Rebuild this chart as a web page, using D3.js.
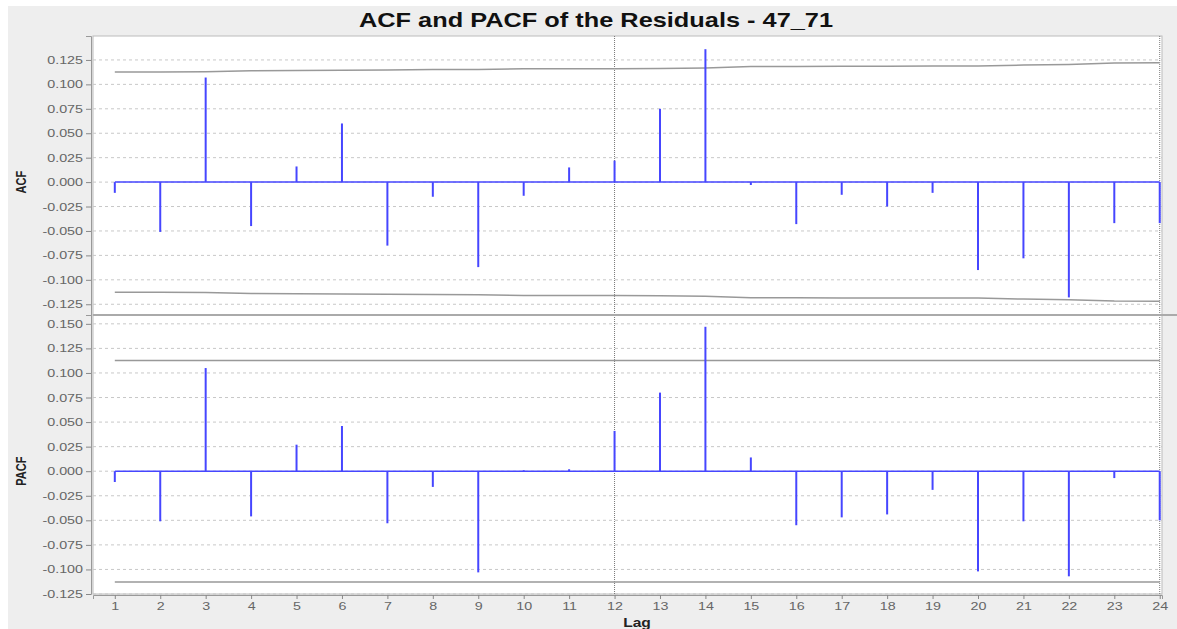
<!DOCTYPE html>
<html>
<head>
<meta charset="utf-8">
<script src="https://cdn.jsdelivr.net/npm/d3@7"></script>
<style>
  body { margin: 0; background: #fff; }
  svg { display: block; font-family: "Liberation Sans", Arial, sans-serif; }
  .tick text { fill: #666; font-size: 11px; }
  .tick line { stroke: #888; }
  .domain { stroke: #999; }
</style>
</head>
<body>
<div id="graph"></div>
<script>
// chart data
const lags = [1,2,3,4,5,6,7,8,9,10,11,12,13,14,15,16,17,18,19,20,21,22,23,24];
const acfValues = [-0.011,-0.051,0.107,-0.045,0.016,0.060,-0.065,-0.015,-0.087,-0.014,0.015,0.022,
                   0.075,0.136,-0.003,-0.043,-0.013,-0.025,-0.011,-0.090,-0.078,-0.118,-0.042,-0.042];
const pacfValues = [-0.011,-0.051,0.105,-0.046,0.027,0.046,-0.053,-0.016,-0.103,0.001,0.002,0.041,
                    0.080,0.147,0.014,-0.055,-0.047,-0.044,-0.019,-0.102,-0.051,-0.107,-0.007,-0.050];
// confidence limits
const acfBand = [0.1127,0.1127,0.1129,0.1140,0.1143,0.1144,0.1148,0.1151,0.1152,0.1160,0.1161,0.1161,
                 0.1162,0.1168,0.1184,0.1184,0.1186,0.1186,0.1187,0.1187,0.1197,0.1203,0.1218,0.1220];
const pacfBand = [0.1127,0.1127,0.1127,0.1127,0.1127,0.1127,0.1127,0.1127,0.1127,0.1127,0.1127,0.1127,
                  0.1127,0.1127,0.1127,0.1127,0.1127,0.1127,0.1127,0.1127,0.1127,0.1127,0.1127,0.1127];
const acfTicks = [-0.125,-0.100,-0.075,-0.050,-0.025,0,0.025,0.050,0.075,0.100,0.125];
const pacfTicks = [-0.125,-0.100,-0.075,-0.050,-0.025,0,0.025,0.050,0.075,0.100,0.125,0.150];
const markLags = [12, 24];

const width = 1177, height = 629;
const left = 93, right = 1162;
const stretch = 1.3; // the original picture is stretched sideways

const graph = d3.select("div#graph").append("svg")
  .attr("width", width).attr("height", height);

// panel background
graph.append("rect").attr("x", 8).attr("y", 6)
  .attr("width", width - 8).attr("height", height - 6).attr("fill", "#eeeeee");

graph.append("text")
  .attr("transform", `translate(596,27) scale(${stretch},1)`)
  .attr("text-anchor", "middle")
  .style("font-size", "19.5px").style("font-weight", "bold").attr("fill", "#111")
  .text("ACF and PACF of the Residuals - 47_71");

const xScale = d3.scaleLinear().domain([0.52, 24.05]).range([left, right]);

const panels = [
  {name: "ACF", values: acfValues, band: acfBand, ticks: acfTicks,
   y: d3.scaleLinear().domain([-0.136, 0.1495]).range([315, 36])},
  {name: "PACF", values: pacfValues, band: pacfBand, ticks: pacfTicks,
   y: d3.scaleLinear().domain([-0.125, 0.159]).range([594, 315])}
];

panels.forEach(function(p) {
  const top = p.y.range()[1], bottom = p.y.range()[0];
  const g = graph.append("g");

  g.append("rect")
    .attr("x", left).attr("y", top)
    .attr("width", right - left).attr("height", bottom - top)
    .attr("fill", "#fff").attr("stroke", "#bbb").attr("stroke-width", 1);

  // horizontal grid
  g.selectAll("line.grid").data(p.ticks).enter().append("line")
    .attr("class", "grid")
    .attr("x1", left).attr("x2", right)
    .attr("y1", d => p.y(d)).attr("y2", d => p.y(d))
    .attr("stroke", "#c8c8c8").attr("stroke-dasharray", "3,3");

  // vertical markers
  g.selectAll("line.mark").data(markLags).enter().append("line")
    .attr("class", "mark")
    .attr("x1", d => xScale(d)).attr("x2", d => xScale(d))
    .attr("y1", top).attr("y2", bottom)
    .attr("stroke", "#777").attr("stroke-dasharray", "1,1");

  // confidence limits
  const upper = d3.line().x((d, i) => xScale(lags[i])).y(d => p.y(d));
  const lower = d3.line().x((d, i) => xScale(lags[i])).y(d => p.y(-d));
  g.append("path").datum(p.band).attr("d", upper)
    .attr("fill", "none").attr("stroke", "#999").attr("stroke-width", 1.5);
  g.append("path").datum(p.band).attr("d", lower)
    .attr("fill", "none").attr("stroke", "#999").attr("stroke-width", 1.5);

  // zero line and stems
  g.append("line")
    .attr("x1", xScale(lags[0])).attr("x2", xScale(lags[lags.length - 1]))
    .attr("y1", p.y(0)).attr("y2", p.y(0))
    .attr("stroke", "#4646ff").attr("stroke-width", 1.5);
  g.selectAll("line.stem").data(p.values).enter().append("line")
    .attr("class", "stem")
    .attr("x1", (d, i) => xScale(lags[i])).attr("x2", (d, i) => xScale(lags[i]))
    .attr("y1", p.y(0)).attr("y2", d => p.y(d))
    .attr("stroke", "#4646ff").attr("stroke-width", 2);

  const yAxis = d3.axisLeft(p.y).tickValues(p.ticks)
    .tickFormat(d => d.toFixed(3)).tickSize(5).tickPadding(3);
  g.append("g").attr("class", "y axis")
    .attr("transform", `translate(${left - 2},0)`)
    .call(yAxis)
    .selectAll("text")
    .attr("x", 0)
    .attr("transform", `translate(-8,0) scale(${stretch},1)`);

  g.append("text")
    .attr("transform", `translate(26,${p.y(0)}) rotate(-90) scale(1,${stretch})`)
    .attr("text-anchor", "middle")
    .style("font-size", "11px").style("font-weight", "bold").attr("fill", "#222")
    .text(p.name);
});

// separator between the two plots
graph.append("line").attr("x1", left).attr("x2", width)
  .attr("y1", 315).attr("y2", 315)
  .attr("stroke", "#aaa").attr("stroke-width", 2);

const xAxis = d3.axisBottom(xScale).tickValues(lags)
  .tickFormat(d3.format("d")).tickSize(4).tickPadding(3);
graph.append("g").attr("class", "x axis")
  .attr("transform", "translate(0,595)")
  .call(xAxis)
  .selectAll("text")
  .attr("transform", `scale(${stretch},1)`);

graph.append("text")
  .attr("transform", `translate(637,627) scale(${stretch},1)`)
  .attr("text-anchor", "middle")
  .style("font-size", "12px").style("font-weight", "bold").attr("fill", "#222")
  .text("Lag");
</script>
</body>
</html>
